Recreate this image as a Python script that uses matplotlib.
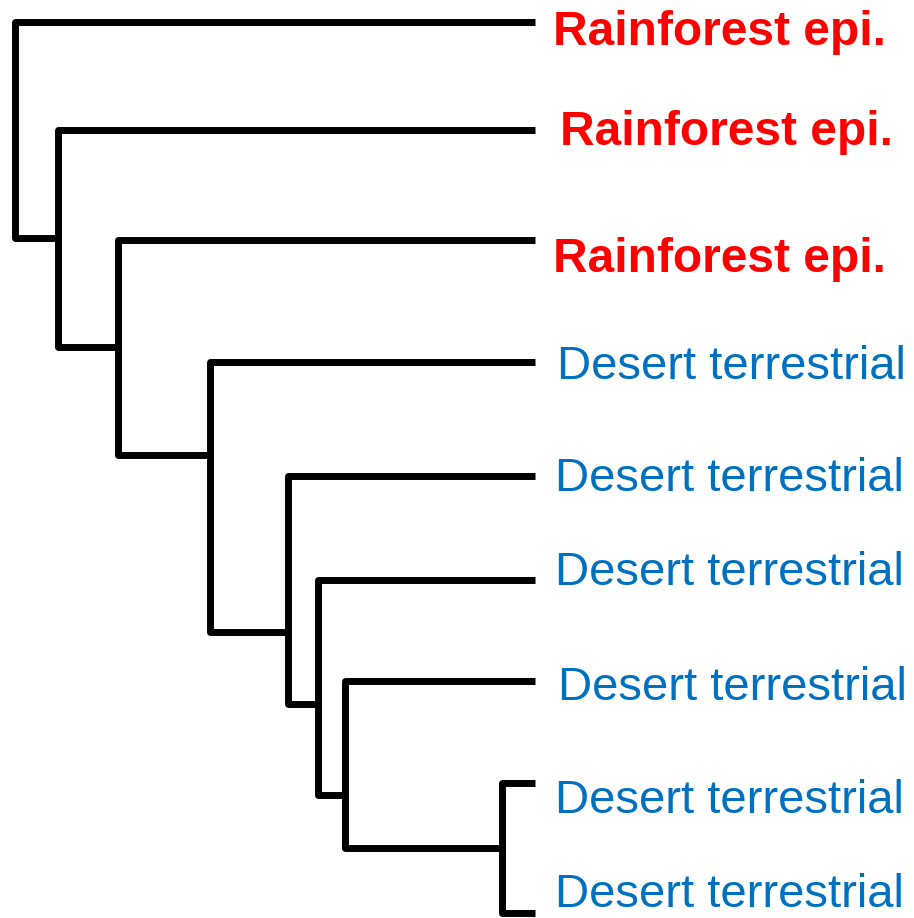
import matplotlib
matplotlib.use("Agg")
import matplotlib.pyplot as plt

# leaf tips (tree drawn in pixel-like units, y grows downwards)
LEAF_LABELS = ["Rainforest epi."] * 3 + ["Desert terrestrial"] * 6
LEAF_HABITAT = ["rain"] * 3 + ["desert"] * 6
TIP_X = 535

# internal nodes of the ladder tree, root first
NODE_X = [15, 58, 118, 210, 288, 318, 345, 502]
NODE_TOP = [22, 130, 240, 362, 476, 580, 681, 783]      # leaf attached at top
NODE_BOTTOM = [238, 347, 455, 632, 704, 795, 848, 913]  # next node (or last leaf)

# label anchor positions (left edge, baseline)
LABEL_X = [553, 560, 553, 557, 555, 555, 558, 555, 555]
LABEL_Y = [45, 145, 272, 379, 491, 585, 700, 813, 907]

COLORS = {"rain": "#ff0000", "desert": "#0070c0"}
WEIGHTS = {"rain": "bold", "desert": "normal"}
SIZES = {"rain": 34.5, "desert": 34}

fig = plt.figure(figsize=(9.14, 9.18), dpi=100)
ax = fig.add_axes([0, 0, 1, 1])
ax.set_xlim(0, 914)
ax.set_ylim(918, 0)
ax.axis("off")

for i, x in enumerate(NODE_X):
    end_x = NODE_X[i + 1] if i + 1 < len(NODE_X) else TIP_X
    xs = [TIP_X, x, x, end_x]
    ys = [NODE_TOP[i], NODE_TOP[i], NODE_BOTTOM[i], NODE_BOTTOM[i]]
    ax.plot(xs, ys, color="black", lw=5.0, solid_joinstyle="round",
            solid_capstyle="butt")

for lab, hab, lx, ly in zip(LEAF_LABELS, LEAF_HABITAT, LABEL_X, LABEL_Y):
    ax.text(lx, ly, lab, color=COLORS[hab], fontweight=WEIGHTS[hab],
            fontsize=SIZES[hab], family="Liberation Sans", ha="left",
            va="baseline", clip_on=False)

fig.savefig("out.png", dpi=100)
